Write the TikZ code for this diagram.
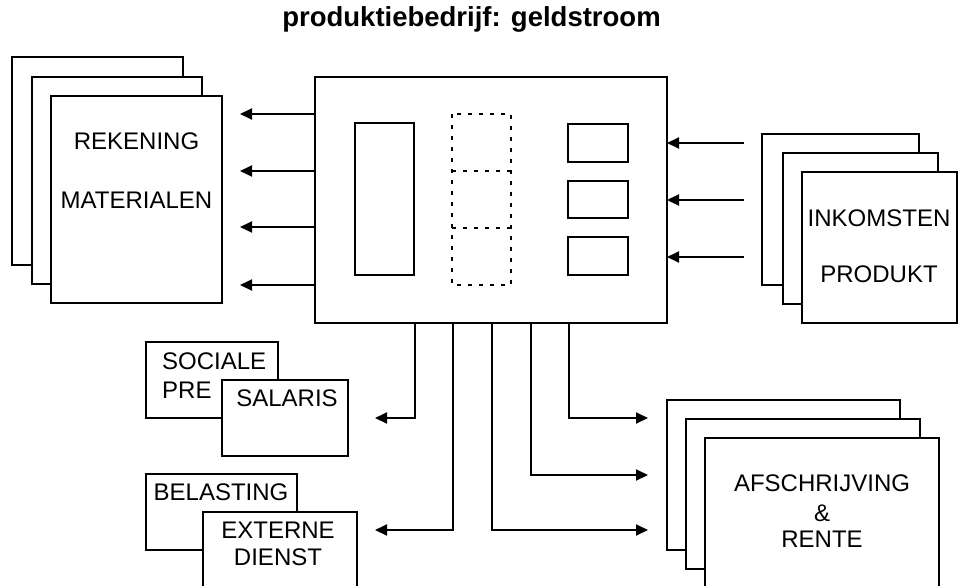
\documentclass[tikz,border=0pt]{standalone}
\usepackage{fontspec}
\setmainfont{Liberation Sans}
\usetikzlibrary{arrows.meta}
\newcommand\mybox[6][]{\node[box,#1, minimum width={(#5-#3)*1pt}, minimum height={(#6-#4)*1pt}] (#2) at (#3,#4) {};}
\begin{document}
\begin{tikzpicture}[x=1pt,y=-1pt,
 box/.style={draw, fill=white, line width=2pt, anchor=north west, inner sep=0pt, outer sep=0pt},
 lbl/.style={font=\fontsize{24}{28}\selectfont, inner sep=0pt},
 arr/.style={line width=2pt, -{Triangle[length=12pt,width=11pt]}},
 dotbox/.style={line width=2.3pt, dash pattern=on 4pt off 7pt}]
\clip (0,0) rectangle (958,586);
% title
\node[font=\fontsize{27.5}{32}\selectfont\bfseries, inner sep=0pt, anchor=base] (title) at (471.5,27) {produktiebedrijf: geldstroom};
% REKENING MATERIALEN stack
\mybox{rek3}{12}{57}{183}{265}
\mybox{rek2}{32}{77}{202}{284}
\mybox{rek1}{51}{96}{222}{303}
\node[lbl] (t-rek) at (136.5,141) {REKENING};
\node[lbl] (t-mat) at (136.5,200) {MATERIALEN};
% central box
\mybox{main}{315}{77}{667}{323}
\mybox{inL}{355}{123}{414}{275}
\draw[dotbox] (452,114) rectangle (511,285);
\draw[dotbox] (452,171) -- (511,171);
\draw[dotbox] (452,228) -- (511,228);
\mybox{s1}{568}{124}{628}{162}
\mybox{s2}{568}{181}{628}{218}
\mybox{s3}{568}{237}{628}{275}
% INKOMSTEN PRODUKT stack
\mybox{ink3}{762}{134}{919}{285}
\mybox{ink2}{783}{153}{938}{304}
\mybox{ink1}{802}{172}{957}{323}
\node[lbl] (t-ink) at (879,218) {INKOMSTEN};
\node[lbl] (t-pro) at (879,274) {PRODUKT};
% SOCIALE PRE / SALARIS
\mybox{soc}{146}{342}{278}{418}
\mybox{sal}{222}{380}{348}{456}
\node[lbl, anchor=west] (t-soc) at (162,361) {SOCIALE};
\node[lbl, anchor=west] (t-pre) at (162,390) {PRE};
\node[lbl] (t-sal) at (287,398) {SALARIS};
% BELASTING / EXTERNE DIENST
\mybox{bel}{146}{474}{297}{550}
\mybox{ext}{203}{512}{357}{610}
\node[lbl] (t-bel) at (221,492) {BELASTING};
\node[lbl] (t-ext) at (278,530) {EXTERNE};
\node[lbl] (t-die) at (278,557) {DIENST};
% AFSCHRIJVING & RENTE stack
\mybox{afs3}{667}{400}{900}{550}
\mybox{afs2}{686}{419}{920}{569}
\mybox{afs1}{705}{438}{939}{610}
\node[lbl] (t-afs) at (822,483) {AFSCHRIJVING};
\node[lbl] (t-amp) at (822,513) {\&};
\node[lbl] (t-ren) at (822,539) {RENTE};
% left arrows
\coordinate (l1) at (240,114);
\coordinate (l2) at (240,171);
\coordinate (l3) at (240,227);
\coordinate (l4) at (240,285);
\foreach \c in {l1,l2,l3,l4} \draw[arr] (main.west |- \c) -- (\c);
% right arrows
\coordinate (r1) at (744,143);
\coordinate (r2) at (744,200);
\coordinate (r3) at (744,257);
\foreach \c in {r1,r2,r3} \draw[arr] (\c) -- (main.east |- \c);
% bottom connectors
\coordinate (t1) at (415,418); \coordinate (e1) at (375,418);
\coordinate (t2) at (453,530); \coordinate (e2) at (375,530);
\coordinate (t3) at (492,530); \coordinate (e3) at (648,530);
\coordinate (t4) at (531,475); \coordinate (e4) at (648,475);
\coordinate (t5) at (569,418); \coordinate (e5) at (648,418);
\foreach \i in {1,...,5} \draw[arr] (main.south -| t\i) -- (t\i) -- (e\i);
\end{tikzpicture}
\end{document}
